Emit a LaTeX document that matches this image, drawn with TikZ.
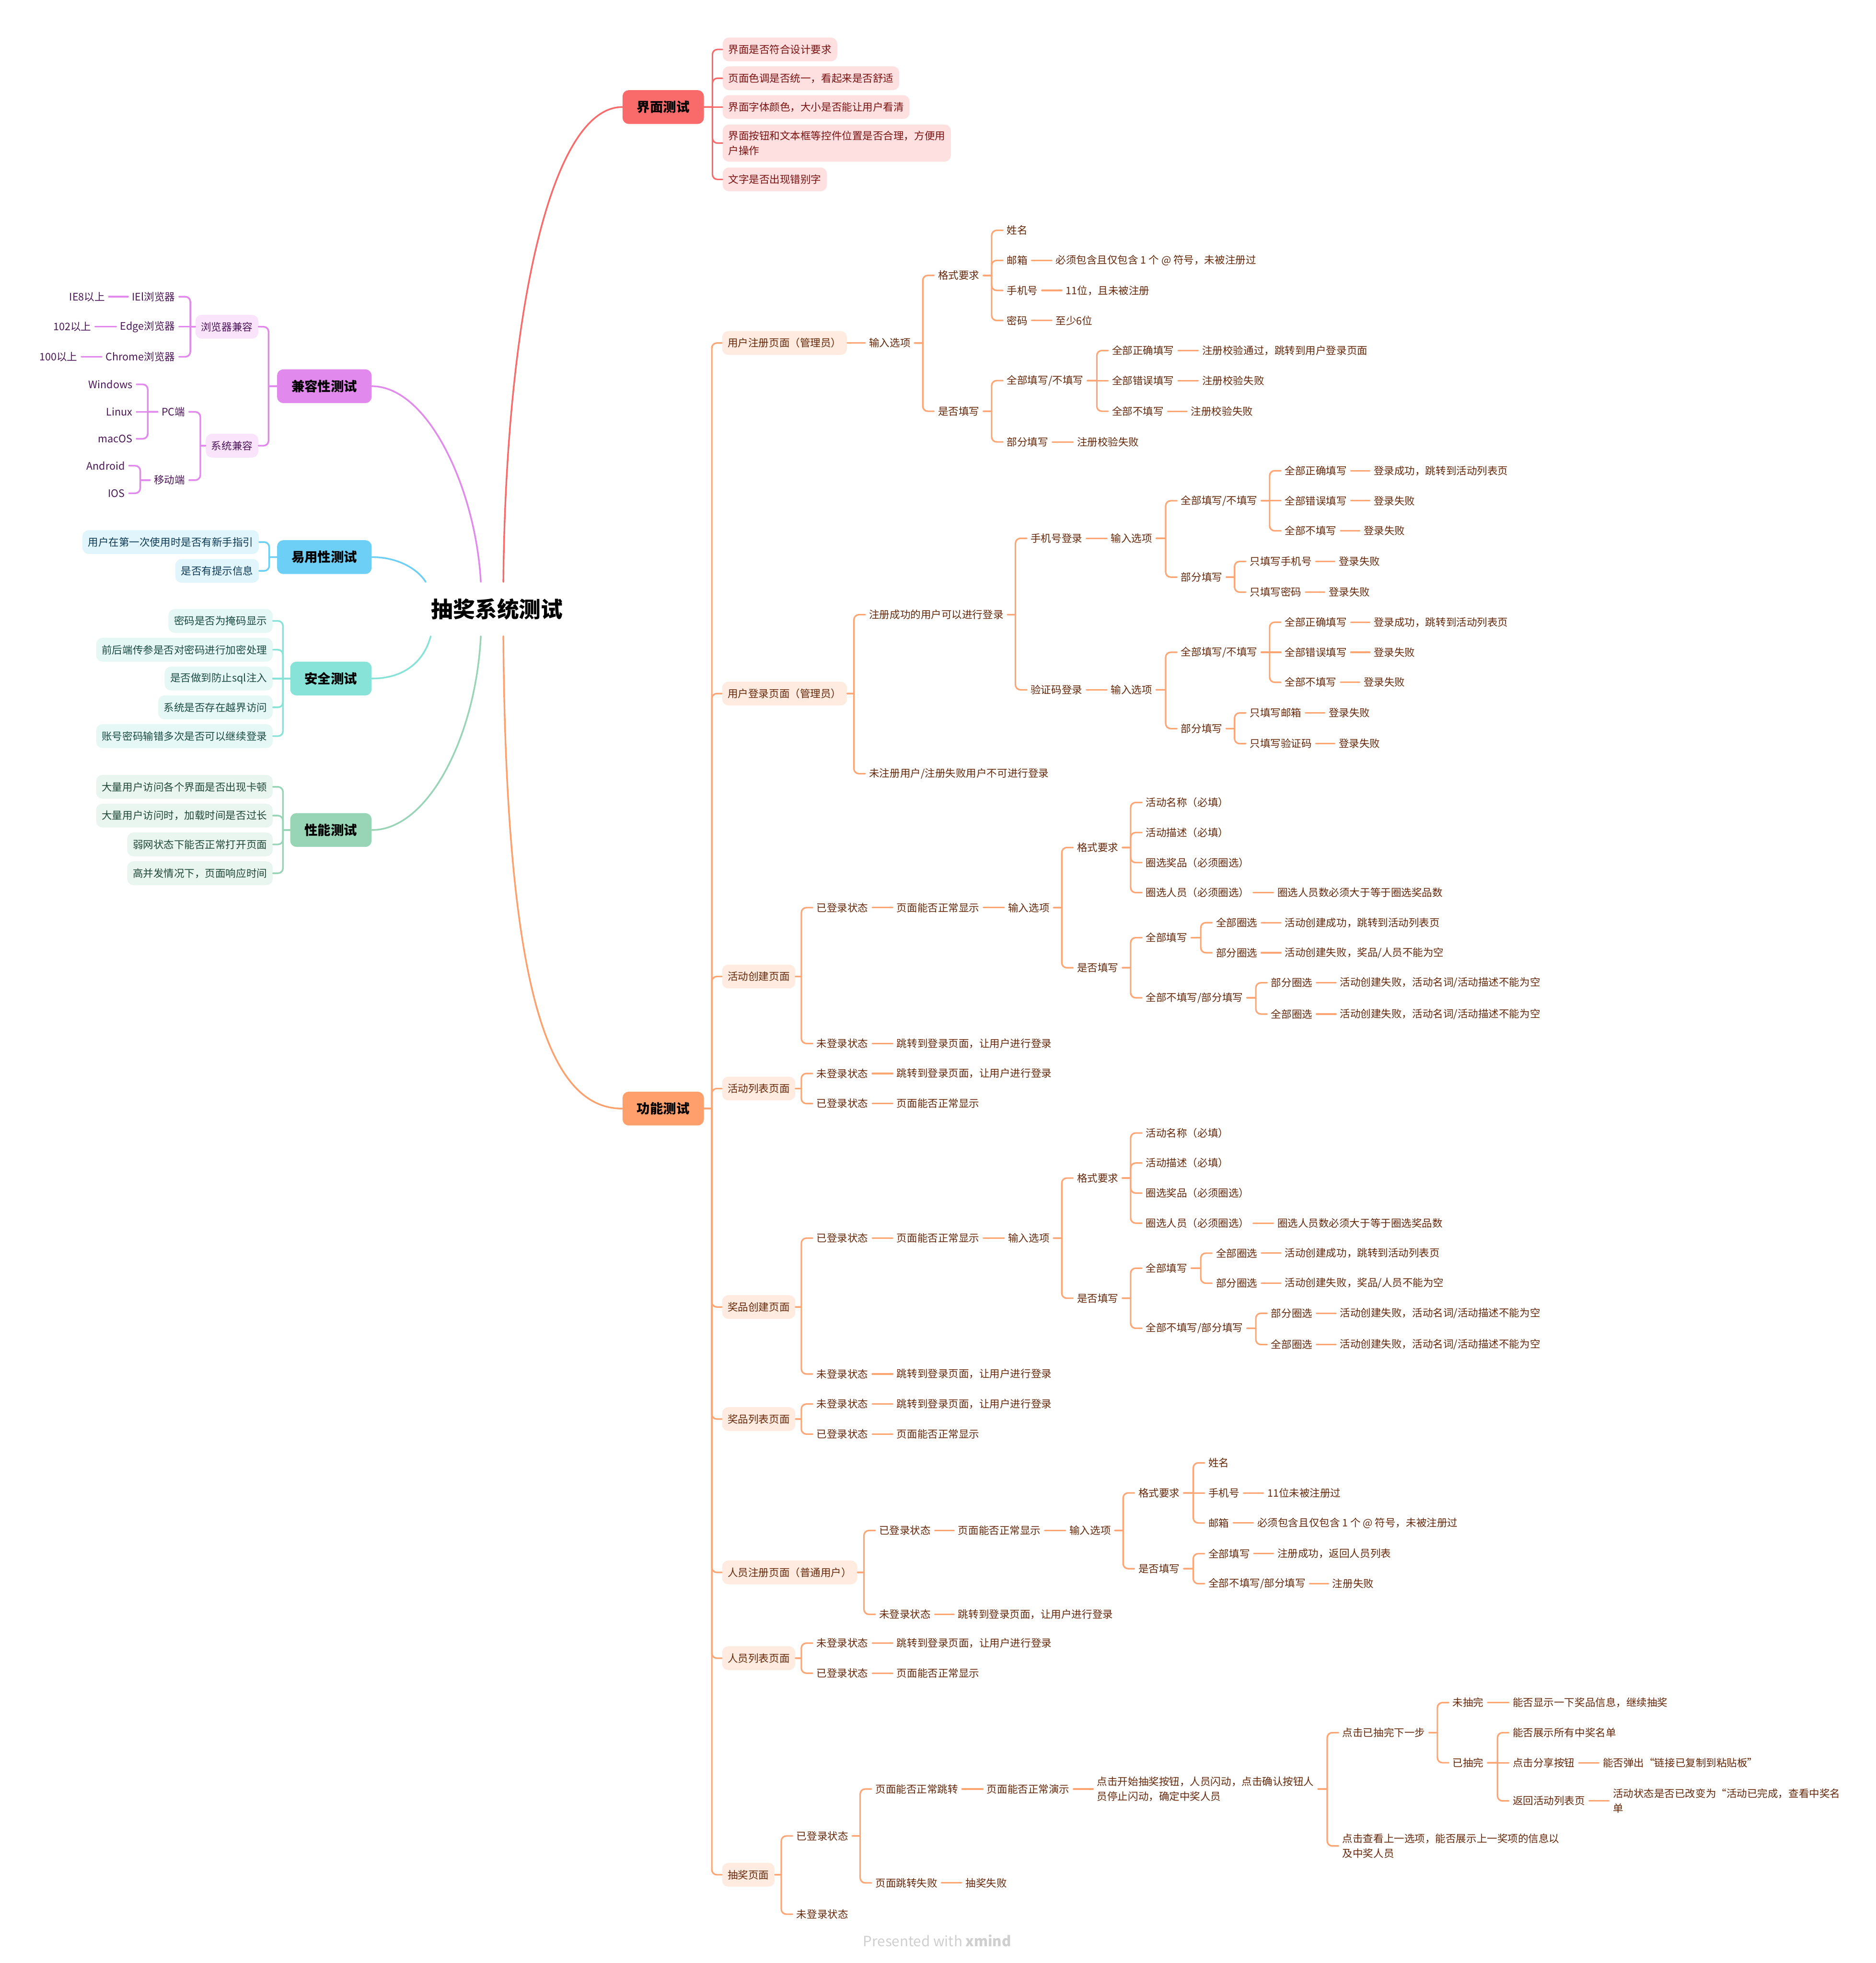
\documentclass[tikz,border=0pt]{standalone}
\usepackage{fontspec}
\setmainfont{Noto Sans CJK SC}
\usetikzlibrary{calc}
\definecolor{jmFill}{HTML}{F96B6B}
\definecolor{jmSub}{HTML}{FFE0E0}
\definecolor{jmTxt}{HTML}{7A1212}
\definecolor{gnFill}{HTML}{FF9F6B}
\definecolor{gnLine}{HTML}{FFA573}
\definecolor{gnSub}{HTML}{FFEBDF}
\definecolor{gnTxt}{HTML}{66280A}
\definecolor{jrFill}{HTML}{E189EC}
\definecolor{jrSub}{HTML}{F9E4FB}
\definecolor{jrTxt}{HTML}{4C1659}
\definecolor{yyFill}{HTML}{6DCFF6}
\definecolor{yySub}{HTML}{E1F5FD}
\definecolor{yyTxt}{HTML}{0F3A55}
\definecolor{aqFill}{HTML}{87E2D7}
\definecolor{aqSub}{HTML}{E6F8F5}
\definecolor{aqTxt}{HTML}{1B4B45}
\definecolor{xnFill}{HTML}{98D5B7}
\definecolor{xnSub}{HTML}{E8F6EF}
\definecolor{xnTxt}{HTML}{21483A}
\definecolor{footGray}{HTML}{CFCFCF}
\newcommand\smtxt{\fontsize{8.25}{12}\selectfont}
\newcommand\maintxt{\fontsize{10.5}{12}\selectfont\bfseries}
\newcommand\roottxt{\fontsize{17.5}{20}\selectfont\bfseries}
% right elbow: parent east -> trunk -> child west
\newcommand\elbR[3][9pt]{\draw[cl,rounded corners=4pt] let \p1=(#2.east), \p2=(#3.west) in (\p1) -- (\x2-#1,\y1) (\x2-#1,\y1) -- (\x2-#1,\y2) -- (\p2);}
% left elbow: parent west -> trunk -> child east
\newcommand\elbL[3][9pt]{\draw[cl,rounded corners=4pt] let \p1=(#2.west), \p2=(#3.east) in (\p1) -- (\x2+#1,\y1) (\x2+#1,\y1) -- (\x2+#1,\y2) -- (\p2);}
\newcommand\lineR[2]{\draw[cl] (#1.east) -- (#2.west);}
\newcommand\lineL[2]{\draw[cl] (#1.west) -- (#2.east);}
\newcommand\createtree[3]{%
 \node[rt] (#1a) at (652,{725+#3}) {已登录状态};
 \node[rt] (#1b) at (716,{725+#3}) {页面能否正常显示};
 \node[rt] (#1c) at (805,{725+#3}) {输入选项};
 \node[rt] (#1d) at (860,{677+#3}) {格式要求};
 \node[rt] (#1e) at (915,{641+#3}) {活动名称（必填）};
 \node[rt] (#1f) at (915,{665+#3}) {活动描述（必填）};
 \node[rt] (#1g) at (915,{689+#3}) {圈选奖品（必须圈选）};
 \node[rt] (#1h) at (915,{713+#3}) {圈选人员（必须圈选）};
 \node[rt] (#1hh) at (1020,{713+#3}) {圈选人员数必须大于等于圈选奖品数};
 \node[rt] (#1i) at (860,{773+#3}) {是否填写};
 \node[rt] (#1j) at (915,{749+#3}) {全部填写};
 \node[rt] (#1k) at (971,{737+#3}) {全部圈选};
 \node[rt] (#1kk) at (1026,{737+#3}) {活动创建成功，跳转到活动列表页};
 \node[rt] (#1l) at (971,{761+#3}) {部分圈选};
 \node[rt] (#1ll) at (1026,{761+#3}) {活动创建失败，奖品/人员不能为空};
 \node[rt] (#1m) at (915,{797+#3}) {全部不填写/部分填写};
 \node[rt] (#1n) at (1015,{785+#3}) {部分圈选};
 \node[rt] (#1nn) at (1070,{785+#3}) {活动创建失败，活动名词/活动描述不能为空};
 \node[rt] (#1o) at (1015,{810+#3}) {全部圈选};
 \node[rt] (#1oo) at (1070,{810+#3}) {活动创建失败，活动名词/活动描述不能为空};
 \node[rt] (#1p) at (652,{833.5+#3}) {未登录状态};
 \node[rt] (#1pp) at (716,{833.5+#3}) {跳转到登录页面，让用户进行登录};
 \elbR{#2}{#1a}\lineR{#1a}{#1b}\lineR{#1b}{#1c}
 \elbR{#1c}{#1d}\elbR{#1c}{#1i}
 \elbR{#1d}{#1e}\elbR{#1d}{#1f}\elbR{#1d}{#1g}\elbR{#1d}{#1h}\lineR{#1h}{#1hh}
 \elbR{#1i}{#1j}\elbR{#1i}{#1m}
 \elbR{#1j}{#1k}\elbR{#1j}{#1l}\lineR{#1k}{#1kk}\lineR{#1l}{#1ll}
 \elbR{#1m}{#1n}\elbR{#1m}{#1o}\lineR{#1n}{#1nn}\lineR{#1o}{#1oo}
 \elbR{#2}{#1p}\lineR{#1p}{#1pp}
}
\newcommand\listtree[4]{%
 \node[rt] (#1a) at (652,#3) {未登录状态};
 \node[rt] (#1b) at (716,#3) {跳转到登录页面，让用户进行登录};
 \node[rt] (#1c) at (652,#4) {已登录状态};
 \node[rt] (#1d) at (716,#4) {页面能否正常显示};
 \elbR{#2}{#1a}\lineR{#1a}{#1b}\elbR{#2}{#1c}\lineR{#1c}{#1d}
}
\begin{document}
\begin{tikzpicture}[x=1pt,y=-1pt,
  cl/.style={draw=gnLine,line width=1.2pt,line cap=round},
  rt/.style={anchor=west,xshift=-3pt,inner sep=3pt,font=\smtxt},
  lt/.style={anchor=east,xshift=3pt,inner sep=3pt,font=\smtxt},
  subbox/.style={anchor=west,rounded corners=5pt,inner xsep=4.5pt,inner ysep=5pt,minimum height=19pt,font=\smtxt},
  lsubbox/.style={anchor=east,rounded corners=5pt,inner xsep=4.5pt,inner ysep=5pt,minimum height=19pt,font=\smtxt},
  mainbox/.style={rounded corners=5pt,inner xsep=11.5pt,inner ysep=0pt,minimum height=27pt,font=\maintxt,text=black},
  mainline/.style={line width=1.3pt,line cap=round}]
\fill[white] (0,0) rectangle (1498,1568);
\useasboundingbox (0,0) rectangle (1498,1568);

\node[font=\roottxt,inner sep=0pt,minimum height=43pt] (root) at (397,486.5) {抽奖系统测试};

% ---------- 界面测试 ----------
\begin{scope}[cl/.style={draw=jmFill,line width=1.2pt,line cap=round},every node/.append style={text=jmTxt}]
\node[mainbox,fill=jmFill,anchor=west] (jm) at (497,85.5) {界面测试};
\node[subbox,fill=jmSub] (jm1) at (577,39.5) {界面是否符合设计要求};
\node[subbox,fill=jmSub] (jm2) at (577,62.5) {页面色调是否统一，看起来是否舒适};
\node[subbox,fill=jmSub] (jm3) at (577,85.5) {界面字体颜色，大小是否能让用户看清};
\node[subbox,fill=jmSub,align=left] (jm4) at (577,114.3) {界面按钮和文本框等控件位置是否合理，方便用\\户操作};
\node[subbox,fill=jmSub] (jm5) at (577,143.3) {文字是否出现错别字};
\elbR[8pt]{jm}{jm1}\elbR[8pt]{jm}{jm2}\lineR{jm}{jm3}\elbR[8pt]{jm}{jm4}\elbR[8pt]{jm}{jm5}
\end{scope}

% ---------- 功能测试 ----------
\begin{scope}[every node/.append style={text=gnTxt}]
\node[mainbox,fill=gnFill,anchor=west] (gn) at (497,885.5) {功能测试};
\node[subbox,fill=gnSub] (p1) at (576.5,274) {用户注册页面（管理员）};
\node[subbox,fill=gnSub] (p2) at (576.5,554) {用户登录页面（管理员）};
\node[subbox,fill=gnSub] (p3) at (576.5,780) {活动创建页面};
\node[subbox,fill=gnSub] (p4) at (576.5,869.5) {活动列表页面};
\node[subbox,fill=gnSub] (p5) at (576.5,1044) {奖品创建页面};
\node[subbox,fill=gnSub] (p6) at (576.5,1133.5) {奖品列表页面};
\node[subbox,fill=gnSub] (p7) at (576.5,1256) {人员注册页面（普通用户）};
\node[subbox,fill=gnSub] (p8) at (576.5,1324.5) {人员列表页面};
\node[subbox,fill=gnSub] (p9) at (576.5,1497.5) {抽奖页面};
\elbR[8pt]{gn}{p1}\elbR[8pt]{gn}{p2}\elbR[8pt]{gn}{p3}\elbR[8pt]{gn}{p4}\elbR[8pt]{gn}{p5}
\elbR[8pt]{gn}{p6}\elbR[8pt]{gn}{p7}\elbR[8pt]{gn}{p8}\elbR[8pt]{gn}{p9}

% 用户注册页面
\node[rt] (a1) at (694,274) {输入选项};
\node[rt] (a2) at (749,220) {格式要求};
\node[rt] (a3) at (804,184) {姓名};
\node[rt] (a4) at (804,208) {邮箱};
\node[rt] (a4b) at (843,208) {必须包含且仅包含 1 个 @ 符号，未被注册过};
\node[rt] (a5) at (804,232) {手机号};
\node[rt] (a5b) at (851,232) {11位，且未被注册};
\node[rt] (a6) at (804,256) {密码};
\node[rt] (a6b) at (843,256) {至少6位};
\node[rt] (a7) at (749,328.5) {是否填写};
\node[rt] (a8) at (804,304) {全部填写/不填写};
\node[rt] (a9) at (888,280) {全部正确填写};
\node[rt] (a9b) at (960,280) {注册校验通过，跳转到用户登录页面};
\node[rt] (a10) at (888,304) {全部错误填写};
\node[rt] (a10b) at (960,304) {注册校验失败};
\node[rt] (a11) at (888,328.5) {全部不填写};
\node[rt] (a11b) at (951,328.5) {注册校验失败};
\node[rt] (a12) at (804,353) {部分填写};
\node[rt] (a12b) at (860,353) {注册校验失败};
\lineR{p1}{a1}
\elbR{a1}{a2}\elbR{a1}{a7}
\elbR{a2}{a3}\elbR{a2}{a4}\elbR{a2}{a5}\elbR{a2}{a6}
\lineR{a4}{a4b}\lineR{a5}{a5b}\lineR{a6}{a6b}
\elbR{a7}{a8}\elbR{a7}{a12}
\elbR{a8}{a9}\lineR{a8}{a10}\elbR{a8}{a11}
\lineR{a9}{a9b}\lineR{a10}{a10b}\lineR{a11}{a11b}\lineR{a12}{a12b}

% 用户登录页面
\node[rt] (b1) at (694,491) {注册成功的用户可以进行登录};
\node[rt] (b2) at (823,430) {手机号登录};
\node[rt] (b3) at (887,430) {输入选项};
\node[rt] (b4) at (943,400) {全部填写/不填写};
\node[rt] (b5) at (1026,376) {全部正确填写};
\node[rt] (b5b) at (1097,376) {登录成功，跳转到活动列表页};
\node[rt] (b6) at (1026,400) {全部错误填写};
\node[rt] (b6b) at (1097,400) {登录失败};
\node[rt] (b7) at (1026,424) {全部不填写};
\node[rt] (b7b) at (1089,424) {登录失败};
\node[rt] (b8) at (943,461) {部分填写};
\node[rt] (b9) at (998,448.5) {只填写手机号};
\node[rt] (b9b) at (1069,448.5) {登录失败};
\node[rt] (b10) at (998,473) {只填写密码};
\node[rt] (b10b) at (1061,473) {登录失败};
\node[rt] (c2) at (823,551) {验证码登录};
\node[rt] (c3) at (887,551) {输入选项};
\node[rt] (c4) at (943,521) {全部填写/不填写};
\node[rt] (c5) at (1026,497) {全部正确填写};
\node[rt] (c5b) at (1097,497) {登录成功，跳转到活动列表页};
\node[rt] (c6) at (1026,521) {全部错误填写};
\node[rt] (c6b) at (1097,521) {登录失败};
\node[rt] (c7) at (1026,545) {全部不填写};
\node[rt] (c7b) at (1089,545) {登录失败};
\node[rt] (c8) at (943,582) {部分填写};
\node[rt] (c9) at (998,569.5) {只填写邮箱};
\node[rt] (c9b) at (1061,569.5) {登录失败};
\node[rt] (c10) at (998,594) {只填写验证码};
\node[rt] (c10b) at (1069,594) {登录失败};
\node[rt] (b11) at (694,618) {未注册用户/注册失败用户不可进行登录};
\elbR{p2}{b1}\elbR{p2}{b11}
\elbR{b1}{b2}\elbR{b1}{c2}
\lineR{b2}{b3}\elbR{b3}{b4}\elbR{b3}{b8}
\elbR{b4}{b5}\lineR{b4}{b6}\elbR{b4}{b7}
\lineR{b5}{b5b}\lineR{b6}{b6b}\lineR{b7}{b7b}
\elbR{b8}{b9}\elbR{b8}{b10}\lineR{b9}{b9b}\lineR{b10}{b10b}
\lineR{c2}{c3}\elbR{c3}{c4}\elbR{c3}{c8}
\elbR{c4}{c5}\lineR{c4}{c6}\elbR{c4}{c7}
\lineR{c5}{c5b}\lineR{c6}{c6b}\lineR{c7}{c7b}
\elbR{c8}{c9}\elbR{c8}{c10}\lineR{c9}{c9b}\lineR{c10}{c10b}

% 活动创建 / 活动列表 / 奖品创建 / 奖品列表
\createtree{ac}{p3}{0}
\listtree{al}{p4}{857.5}{881.5}
\createtree{pz}{p5}{264}
\listtree{pl}{p6}{1121.5}{1145.5}

% 人员注册页面
\node[rt] (f1) at (702,1222.5) {已登录状态};
\node[rt] (f2) at (765,1222.5) {页面能否正常显示};
\node[rt] (f3) at (854,1222.5) {输入选项};
\node[rt] (f4) at (909,1192.5) {格式要求};
\node[rt] (f5) at (965,1168.5) {姓名};
\node[rt] (f6) at (965,1192.5) {手机号};
\node[rt] (f6b) at (1012,1192.5) {11位未被注册过};
\node[rt] (f7) at (965,1216.5) {邮箱};
\node[rt] (f7b) at (1004,1216.5) {必须包含且仅包含 1 个 @ 符号，未被注册过};
\node[rt] (f8) at (909,1253) {是否填写};
\node[rt] (f9) at (965,1241) {全部填写};
\node[rt] (f9b) at (1020,1241) {注册成功，返回人员列表};
\node[rt] (f10) at (965,1265) {全部不填写/部分填写};
\node[rt] (f10b) at (1064,1265) {注册失败};
\node[rt] (f11) at (702,1289.5) {未登录状态};
\node[rt] (f11b) at (765,1289.5) {跳转到登录页面，让用户进行登录};
\elbR{p7}{f1}\elbR{p7}{f11}\lineR{f1}{f2}\lineR{f2}{f3}
\elbR{f3}{f4}\elbR{f3}{f8}
\elbR{f4}{f5}\lineR{f4}{f6}\elbR{f4}{f7}\lineR{f6}{f6b}\lineR{f7}{f7b}
\elbR{f8}{f9}\elbR{f8}{f10}\lineR{f9}{f9b}\lineR{f10}{f10b}
\lineR{f11}{f11b}

% 人员列表页面
\listtree{rl}{p8}{1312.5}{1336.5}

% 抽奖页面
\node[rt] (g1) at (636,1466.5) {已登录状态};
\node[rt] (g2) at (699,1429) {页面能否正常跳转};
\node[rt] (g3) at (788,1429) {页面能否正常演示};
\node[rt,align=left] (g4) at (876,1429) {点击开始抽奖按钮，人员闪动，点击确认按钮人\\员停止闪动，确定中奖人员};
\node[rt] (g5) at (1072,1384) {点击已抽完下一步};
\node[rt] (g6) at (1160,1360) {未抽完};
\node[rt] (g6b) at (1208,1360) {能否显示一下奖品信息，继续抽奖};
\node[rt] (g7) at (1160,1408) {已抽完};
\node[rt] (g8) at (1208,1384) {能否展示所有中奖名单};
\node[rt] (g9) at (1208,1408) {点击分享按钮};
\node[rt] (g9b) at (1280,1408) {能否弹出“链接已复制到粘贴板”};
\node[rt] (g10) at (1208,1438.5) {返回活动列表页};
\node[rt,align=left] (g10b) at (1288,1438.5) {活动状态是否已改变为“活动已完成，查看中奖名\\单};
\node[rt,align=left] (g11) at (1072,1474.5) {点击查看上一选项，能否展示上一奖项的信息以\\及中奖人员};
\node[rt] (g12) at (699,1504) {页面跳转失败};
\node[rt] (g12b) at (771,1504) {抽奖失败};
\node[rt] (g13) at (636,1529) {未登录状态};
\elbR{p9}{g1}\elbR{p9}{g13}
\elbR{g1}{g2}\elbR{g1}{g12}
\lineR{g2}{g3}\lineR{g3}{g4}
\elbR{g4}{g5}\elbR{g4}{g11}
\elbR{g5}{g6}\elbR{g5}{g7}\lineR{g6}{g6b}
\elbR{g7}{g8}\lineR{g7}{g9}\elbR{g7}{g10}
\lineR{g9}{g9b}\lineR{g10}{g10b}\lineR{g12}{g12b}
\end{scope}

% ---------- 兼容性测试 ----------
\begin{scope}[cl/.style={draw=jrFill,line width=1.3pt,line cap=round},every node/.append style={text=jrTxt}]
\node[mainbox,fill=jrFill,anchor=east] (jr) at (297,308.5) {兼容性测试};
\node[lsubbox,fill=jrSub] (jr1) at (206.5,261) {浏览器兼容};
\node[lsubbox,fill=jrSub] (jr2) at (206.5,356) {系统兼容};
\node[lt] (k1) at (140,237) {IEl浏览器};
\node[lt] (k1b) at (84,237) {IE8以上};
\node[lt] (k2) at (140,261) {Edge浏览器};
\node[lt] (k2b) at (73,261) {102以上};
\node[lt] (k3) at (140,285) {Chrome浏览器};
\node[lt] (k3b) at (62,285) {100以上};
\node[lt] (k4) at (148,329) {PC端};
\node[lt] (k5) at (106,307) {Windows};
\node[lt] (k6) at (106,329) {Linux};
\node[lt] (k7) at (106,350.5) {macOS};
\node[lt] (k8) at (148,383.5) {移动端};
\node[lt] (k9) at (100,372) {Android};
\node[lt] (k10) at (100,394) {IOS};
\elbL[8pt]{jr}{jr1}\elbL[8pt]{jr}{jr2}
\elbL{jr1}{k1}\lineL{jr1}{k2}\elbL{jr1}{k3}
\lineL{k1}{k1b}\lineL{k2}{k2b}\lineL{k3}{k3b}
\elbL{jr2}{k4}\elbL{jr2}{k8}
\elbL{k4}{k5}\lineL{k4}{k6}\elbL{k4}{k7}
\elbL{k8}{k9}\elbL{k8}{k10}
\end{scope}

% ---------- 易用性测试 ----------
\begin{scope}[cl/.style={draw=yyFill,line width=1.3pt,line cap=round},every node/.append style={text=yyTxt}]
\node[mainbox,fill=yyFill,anchor=east] (yy) at (297,445) {易用性测试};
\node[lsubbox,fill=yySub] (yy1) at (207,433) {用户在第一次使用时是否有新手指引};
\node[lsubbox,fill=yySub] (yy2) at (207,456) {是否有提示信息};
\elbL[8pt]{yy}{yy1}\elbL[8pt]{yy}{yy2}
\end{scope}

% ---------- 安全测试 ----------
\begin{scope}[cl/.style={draw=aqFill,line width=1.3pt,line cap=round},every node/.append style={text=aqTxt}]
\node[mainbox,fill=aqFill,anchor=east] (aq) at (297,542) {安全测试};
\node[lsubbox,fill=aqSub] (aq1) at (218,496) {密码是否为掩码显示};
\node[lsubbox,fill=aqSub] (aq2) at (218,519) {前后端传参是否对密码进行加密处理};
\node[lsubbox,fill=aqSub] (aq3) at (218,542) {是否做到防止sql注入};
\node[lsubbox,fill=aqSub] (aq4) at (218,565) {系统是否存在越界访问};
\node[lsubbox,fill=aqSub] (aq5) at (218,588) {账号密码输错多次是否可以继续登录};
\elbL[8pt]{aq}{aq1}\elbL[8pt]{aq}{aq2}\lineL{aq}{aq3}\elbL[8pt]{aq}{aq4}\elbL[8pt]{aq}{aq5}
\end{scope}

% ---------- 性能测试 ----------
\begin{scope}[cl/.style={draw=xnFill,line width=1.3pt,line cap=round},every node/.append style={text=xnTxt}]
\node[mainbox,fill=xnFill,anchor=east] (xn) at (297,663) {性能测试};
\node[lsubbox,fill=xnSub] (xn1) at (218,628.5) {大量用户访问各个界面是否出现卡顿};
\node[lsubbox,fill=xnSub] (xn2) at (218,651.5) {大量用户访问时，加载时间是否过长};
\node[lsubbox,fill=xnSub] (xn3) at (218,674.5) {弱网状态下能否正常打开页面};
\node[lsubbox,fill=xnSub] (xn4) at (218,697.5) {高并发情况下，页面响应时间};
\elbL[8pt]{xn}{xn1}\elbL[8pt]{xn}{xn2}\elbL[8pt]{xn}{xn3}\elbL[8pt]{xn}{xn4}
\end{scope}

% ---------- main curves ----------
\draw[mainline,draw=jmFill] ($(root.north)+(5,0)$) .. controls +(2,-214) and +(-57,0) .. (jm.west);
\draw[mainline,draw=gnFill] ($(root.south)+(5,0)$) .. controls +(2,290) and +(-57,0) .. (gn.west);
\draw[mainline,draw=jrFill] ($(root.north)+(-13,0)$) .. controls +(-4,-74) and +(45,0) .. (jr.east);
\draw[mainline,draw=xnFill] ($(root.south)+(-13,0)$) .. controls +(-4,80) and +(45,0) .. (xn.east);
\draw[mainline,draw=yyFill] ($(root.north)+(-57,0)$) .. controls +(-7,-11) and +(20,0) .. (yy.east);
\draw[mainline,draw=aqFill] ($(root.south)+(-53,0)$) .. controls +(-6,22) and +(24,0) .. (aq.east);

\node[font=\fontsize{11.3}{14}\selectfont,text=footGray,inner sep=0pt] (foot) at (748.5,1550) {Presented with \textbf{xmind}};
\end{tikzpicture}
\end{document}
